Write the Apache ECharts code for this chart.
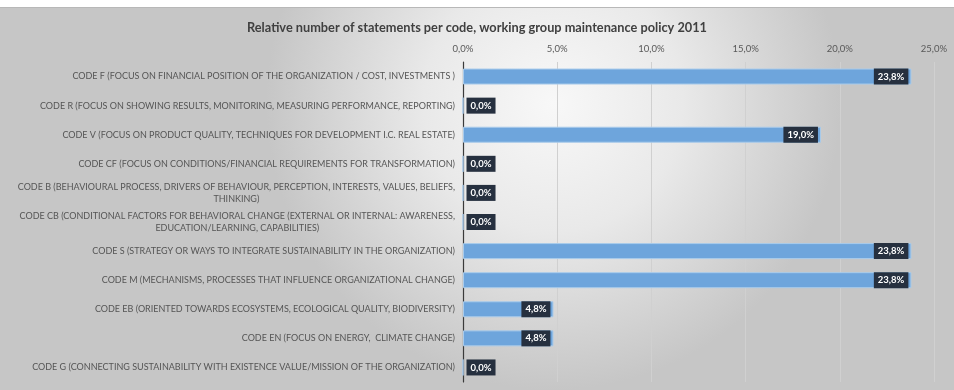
<!DOCTYPE html>
<html>
<head>
<meta charset="utf-8">
<script src="https://cdn.jsdelivr.net/npm/echarts@6/dist/echarts.min.js"></script>
<style>
  html, body { margin: 0; padding: 0; background: #ffffff; }
  #chart { width: 954px; height: 390px; }
</style>
</head>
<body>
<div id="chart"></div>
<script>
// Codes, listed from top to bottom
const categories = [
  'CODE F (FOCUS ON FINANCIAL POSITION OF THE ORGANIZATION / COST, INVESTMENTS )',
  'CODE R (FOCUS ON SHOWING RESULTS, MONITORING, MEASURING PERFORMANCE, REPORTING)',
  'CODE V (FOCUS ON PRODUCT QUALITY, TECHNIQUES FOR DEVELOPMENT I.C. REAL ESTATE)',
  'CODE CF (FOCUS ON CONDITIONS/FINANCIAL REQUIREMENTS FOR TRANSFORMATION)',
  'CODE B (BEHAVIOURAL PROCESS, DRIVERS OF BEHAVIOUR, PERCEPTION, INTERESTS, VALUES, BELIEFS,\nTHINKING)',
  'CODE CB (CONDITIONAL FACTORS FOR BEHAVIORAL CHANGE (EXTERNAL OR INTERNAL: AWARENESS,\nEDUCATION/LEARNING, CAPABILITIES)',
  'CODE S (STRATEGY OR WAYS TO INTEGRATE SUSTAINABILITY IN THE ORGANIZATION)',
  'CODE M (MECHANISMS, PROCESSES THAT INFLUENCE ORGANIZATIONAL CHANGE)',
  'CODE EB (ORIENTED TOWARDS ECOSYSTEMS, ECOLOGICAL QUALITY, BIODIVERSITY)',
  'CODE EN (FOCUS ON ENERGY,  CLIMATE CHANGE)',
  'CODE G (CONNECTING SUSTAINABILITY WITH EXISTENCE VALUE/MISSION OF THE ORGANIZATION)'
];

// Share of statements per code, in percent
const shares = [23.8, 0.0, 19.0, 0.0, 0.0, 0.0, 23.8, 23.8, 4.8, 4.8, 0.0];

// Value axis ticks, in percent
const axisMin = 0;
const axisMax = 25;
const axisStep = 5;

const titleText = 'Relative number of statements per code, working group maintenance policy 2011';

const fmtPct = v => v.toFixed(1).replace('.', ',') + '%';

const chart = echarts.init(document.getElementById('chart'), null, { renderer: 'canvas' });

const catFont = { fontFamily: 'Lato', fontSize: 9, color: '#555555', lineHeight: 12 };

const option = {
  backgroundColor: '#ffffff',
  animation: false,
  graphic: [
    {
      type: 'rect',
      z: -10,
      silent: true,
      shape: { x: 0, y: 7, width: 954, height: 383 },
      style: {
        fill: new echarts.graphic.RadialGradient(0.58, 0.25, 0.75, [
          { offset: 0, color: '#f8f8f8' },
          { offset: 0.45, color: '#e9e9e9' },
          { offset: 1, color: '#c6c6c6' }
        ])
      }
    },
    {
      type: 'line',
      z: -9,
      silent: true,
      shape: { x1: 0, y1: 7.5, x2: 954, y2: 7.5 },
      style: { stroke: '#b8b8b8', lineWidth: 1 }
    }
  ],
  title: {
    text: titleText,
    left: 'center',
    top: 16,
    textStyle: {
      fontFamily: 'Lato',
      fontWeight: 'bold',
      fontSize: 12.75,
      color: '#404040'
    }
  },
  grid: {
    left: 463,
    right: 20,
    top: 62,
    bottom: 8,
    containLabel: false
  },
  xAxis: {
    type: 'value',
    position: 'top',
    min: axisMin,
    max: axisMax,
    interval: axisStep,
    axisLine: { show: false },
    axisTick: { show: false },
    splitLine: { show: true, lineStyle: { color: '#d0d0d0', width: 1 } },
    axisLabel: {
      margin: 8,
      formatter: v => fmtPct(v),
      fontFamily: 'Lato',
      fontSize: 9.5,
      color: '#595959'
    }
  },
  yAxis: {
    type: 'category',
    inverse: true,
    data: categories,
    axisLine: { show: true, lineStyle: { color: '#3a3a3a', width: 1.2 } },
    axisTick: { show: false },
    axisLabel: Object.assign({
      margin: 8,
      formatter: function (txt) {
        const lines = txt.split('\n');
        if (lines.length === 1) return txt;
        return '{a|' + lines[0] + '}\n{c|' + lines[1] + '}';
      },
      rich: {
        a: Object.assign({}, catFont),
        c: Object.assign({ align: 'center' }, catFont)
      }
    }, catFont)
  },
  series: [
    {
      type: 'bar',
      barWidth: 16,
      data: shares.map(v => ({
        value: v,
        label: { position: v === 0 ? 'right' : 'insideRight' }
      })),
      itemStyle: {
        color: '#6ea5dc',
        borderColor: '#a9cbeb',
        borderWidth: 1
      },
      label: {
        show: true,
        distance: 3,
        formatter: p => fmtPct(p.value),
        fontFamily: 'Lato',
        fontWeight: 'bold',
        fontSize: 9.5,
        color: '#ffffff',
        backgroundColor: '#26303f',
        padding: [3, 4, 3, 4]
      }
    }
  ]
};

chart.setOption(option);
</script>
</body>
</html>
